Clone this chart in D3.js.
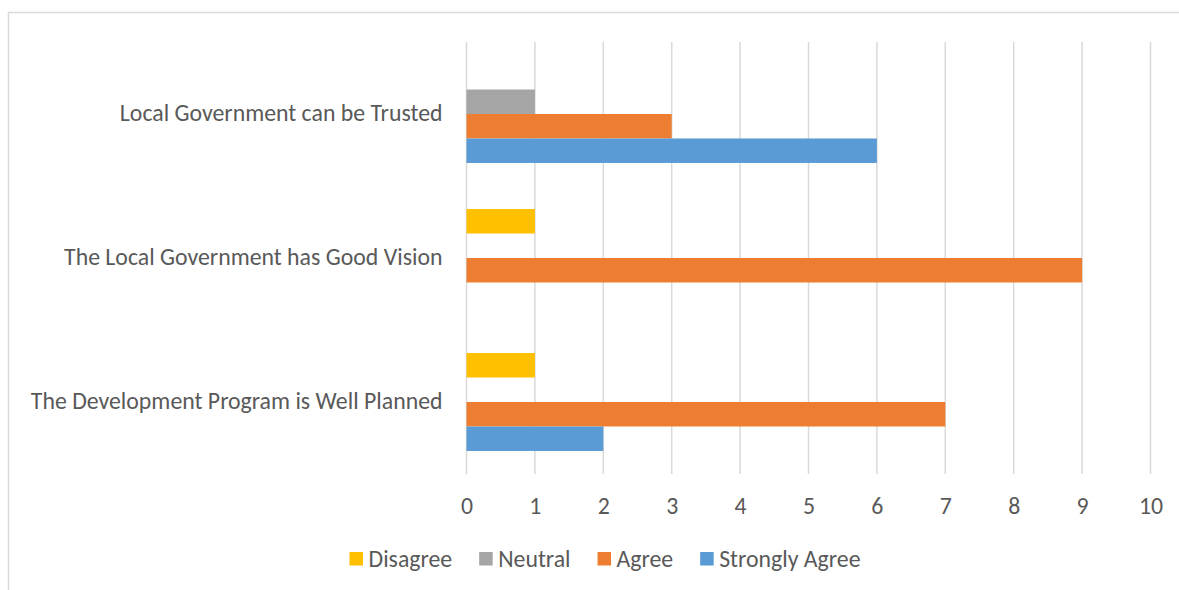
<!DOCTYPE html>
<html>
<head>
<meta charset="utf-8">
<script src="https://cdn.jsdelivr.net/npm/d3@7"></script>
<style>
  body { margin: 0; background: #fff; }
  text { font-family: Carlito, Calibri, Lato, sans-serif; fill: #595959; }
</style>
</head>
<body>
<div id="chart"></div>
<script>
// top-to-bottom as they appear
var categories = ["Local Government can be Trusted", "The Local Government has Good Vision", "The Development Program is Well Planned"];
var seriesNames = ["Disagree", "Neutral", "Agree", "Strongly Agree"];
var disagree = [0, 1, 1];
var neutral = [1, 0, 0];
var agree = [3, 9, 7];
var stronglyAgree = [6, 0, 2];
var xTicks = [0, 1, 2, 3, 4, 5, 6, 7, 8, 9, 10];
var colors = ["#FFC000", "#A5A5A5", "#ED7D31", "#5B9BD5"];

var seriesValues = [disagree, neutral, agree, stronglyAgree];
var fontSize = 23.8;

var width = 1179, height = 590;
var svg = d3.select("#chart").append("svg")
  .attr("width", width)
  .attr("height", height);

// chart border (only left and top show in the crop)
svg.append("path")
  .attr("d", "M8.5,590 L8.5,12.5 L1179,12.5")
  .attr("fill", "none")
  .attr("stroke", "#D9D9D9")
  .attr("stroke-width", 1.5);

var x = d3.scaleLinear().domain([0, 10]).range([466.5, 1150.5]);
var y = d3.scaleBand().domain(categories).range([42, 474])
  .paddingInner(0.32).paddingOuter(0.16);
var ySub = d3.scaleBand().domain(seriesNames).range([0, y.bandwidth()]);

// gridlines
svg.append("g").selectAll("line")
  .data(xTicks)
  .join("line")
  .attr("x1", function(d){ return x(d); })
  .attr("x2", function(d){ return x(d); })
  .attr("y1", 42)
  .attr("y2", 474)
  .attr("stroke", "#D9D9D9")
  .attr("stroke-width", 1.5);

// bars
var rows = [];
categories.forEach(function(c, i){
  seriesNames.forEach(function(s, j){
    rows.push({cat: c, series: s, value: seriesValues[j][i], color: colors[j]});
  });
});

svg.append("g").selectAll("rect")
  .data(rows.filter(function(d){ return d.value > 0; }))
  .join("rect")
  .attr("x", x(0))
  .attr("y", function(d){ return y(d.cat) + ySub(d.series); })
  .attr("width", function(d){ return x(d.value) - x(0); })
  .attr("height", ySub.bandwidth())
  .attr("fill", function(d){ return d.color; });

// x axis labels
var xAxis = svg.append("g")
  .attr("transform", "translate(0,474)")
  .call(d3.axisBottom(x).tickValues(xTicks).tickSize(0).tickPadding(23));
xAxis.select(".domain").remove();
xAxis.selectAll("text")
  .attr("font-size", fontSize)
  .attr("fill", "#595959");

// category labels
var yAxis = svg.append("g")
  .attr("transform", "translate(" + x(0) + ",0)")
  .call(d3.axisLeft(y).tickSize(0).tickPadding(24));
yAxis.select(".domain").remove();
yAxis.selectAll("text")
  .attr("font-size", fontSize)
  .attr("dy", "0.28em")
  .attr("fill", "#595959");
svg.selectAll("g").attr("font-family", null);

// legend
var legend = svg.append("g").attr("transform", "translate(0,559)");
var items = legend.selectAll("g")
  .data(seriesNames)
  .join("g");
items.append("rect")
  .attr("width", 13.5)
  .attr("height", 13.5)
  .attr("y", -7)
  .attr("fill", function(d, i){ return colors[i]; });
items.append("text")
  .attr("x", 19)
  .attr("dy", "0.33em")
  .attr("font-size", fontSize)
  .text(function(d){ return d; });

var pos = 0, offsets = [];
items.each(function(){
  offsets.push(pos);
  pos += 19 + this.querySelector("text").getComputedTextLength() + 27;
});
var total = pos - 27;
var start = 605 - total / 2;
items.attr("transform", function(d, i){ return "translate(" + (start + offsets[i]) + ",0)"; });
</script>
</body>
</html>
